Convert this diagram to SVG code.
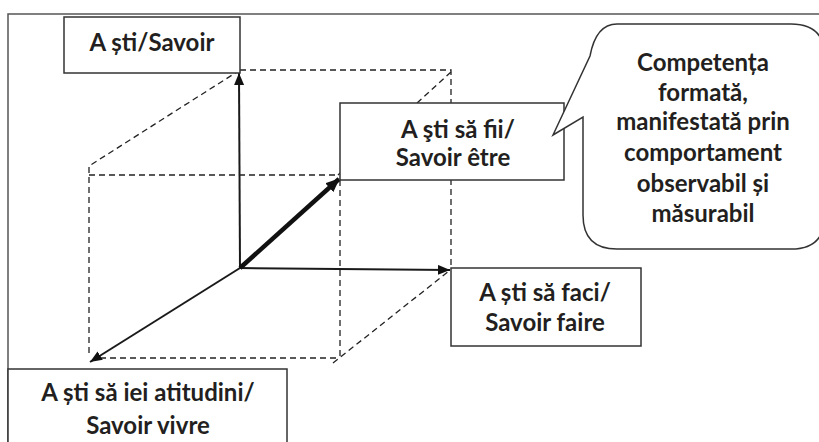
<svg xmlns="http://www.w3.org/2000/svg" width="819" height="442" viewBox="0 0 819 442">
  <style>
    .frame { fill: none; stroke: #555; stroke-width: 1.5; }
    .box { fill: #fff; stroke: #333; stroke-width: 1.5; }
    .dash { fill: none; stroke: #222; stroke-width: 1.3; stroke-dasharray: 6 4; }
    .axis { fill: none; stroke: #1a1a1a; stroke-width: 2; }
    .axis-bold { fill: none; stroke: #111; stroke-width: 4.5; }
    .lbl { font-family: Lato, "Liberation Sans", sans-serif; font-weight: bold; font-size: 24px; fill: #231f20; text-anchor: middle; }
  </style>
  <defs>
    <marker id="head" viewBox="0 0 12 10" refX="12" refY="5" markerWidth="12" markerHeight="10" markerUnits="userSpaceOnUse" orient="auto">
      <path d="M0,0 L12,5 L0,10 Z" fill="#111"/>
    </marker>
    <marker id="head-bold" viewBox="0 0 14 12" refX="13" refY="6" markerWidth="14" markerHeight="12" markerUnits="userSpaceOnUse" orient="auto">
      <path d="M0,0 L14,6 L0,12 Z" fill="#111"/>
    </marker>
  </defs>
  <rect width="819" height="442" fill="#fff"/>

  <!-- outer frame -->
  <path class="frame" d="M8,442 V14 H819"/>

  <!-- dashed cube edges and axes -->
  <g id="connectors">
    <path class="dash" d="M240,70 H451 V268"/>
    <path class="dash" d="M451,72 L338,175"/>
    <path class="dash" d="M240,70 L89,166 V356"/>
    <path class="dash" d="M89,175 H339"/>
    <path class="dash" d="M340,180 V358"/>
    <path class="dash" d="M100,358 H340"/>
    <path class="dash" d="M333,363 L449,271"/>

    <path class="axis" d="M240,268 L239,73" marker-end="url(#head)"/>
    <path class="axis" d="M240,268 L450,270" marker-end="url(#head)"/>
    <path class="axis" d="M240,268 L90,362" marker-end="url(#head)"/>
    <path class="axis-bold" d="M240,268 L339,179" marker-end="url(#head-bold)"/>
  </g>

  <g id="node-savoir">
    <rect class="box" x="64" y="17" width="176" height="56"/>
    <text class="lbl" x="152" y="51">A ști/Savoir</text>
  </g>

  <g id="node-savoir-etre">
    <rect class="box" x="340" y="103" width="224" height="77"/>
    <text class="lbl" x="458" y="138">A şti să fii/</text>
    <text class="lbl" x="453" y="166">Savoir être</text>
  </g>

  <g id="node-savoir-faire">
    <rect class="box" x="451" y="268" width="190" height="78"/>
    <text class="lbl" x="545" y="301">A ști să faci/</text>
    <text class="lbl" x="545" y="331">Savoir faire</text>
  </g>

  <g id="node-savoir-vivre">
    <rect class="box" x="8" y="369" width="279" height="80"/>
    <text class="lbl" x="148" y="401">A ști să iei atitudini/</text>
    <text class="lbl" x="148" y="434">Savoir vivre</text>
  </g>

  <g id="node-competenta">
    <path class="box" d="M617,24 H791 Q825,24 825,58 V215 Q825,249 791,249 H617 Q583,249 583,215 V117 L553,135 L590,56 Q596,24 617,24 Z"/>
    <text class="lbl" x="703" y="71">Competența</text>
    <text class="lbl" x="703" y="101">formată,</text>
    <text class="lbl" x="703" y="130">manifestată prin</text>
    <text class="lbl" x="703" y="161">comportament</text>
    <text class="lbl" x="703" y="192">observabil și</text>
    <text class="lbl" x="703" y="222">măsurabil</text>
  </g>
</svg>
